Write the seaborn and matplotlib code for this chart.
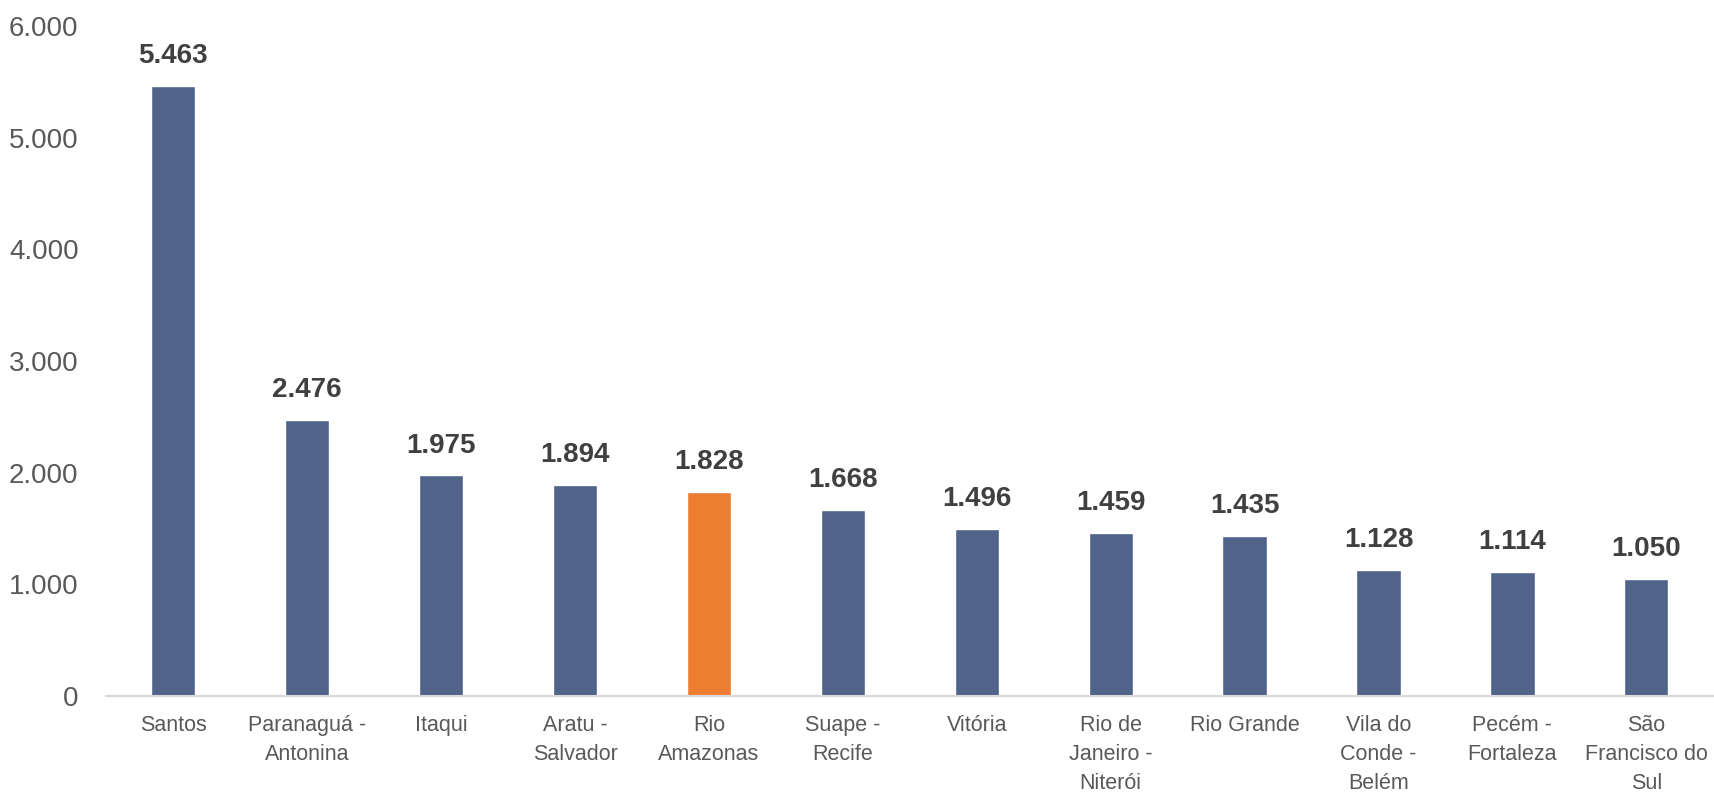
import matplotlib.pyplot as plt
import seaborn as sns
import pandas as pd

sns.set_theme(style="white")
plt.rcParams['font.family'] = ['Liberation Sans Narrow', 'Liberation Sans', 'DejaVu Sans']

# Dados
portos = ["Santos", "Paranaguá -\nAntonina", "Itaqui", "Aratu -\nSalvador", "Rio\nAmazonas",
          "Suape -\nRecife", "Vitória", "Rio de\nJaneiro -\nNiterói", "Rio Grande",
          "Vila do\nConde -\nBelém", "Pecém -\nFortaleza", "São\nFrancisco do\nSul"]
valores = [5463, 2476, 1975, 1894, 1828, 1668, 1496, 1459, 1435, 1128, 1114, 1050]
destaque = "Rio\nAmazonas"

df = pd.DataFrame({"Porto": portos, "Valor": valores})
cores = {p: ("#ED7D31" if p == destaque else "#506389") for p in portos}


def fmt(v):
    return f"{int(round(v)):,}".replace(",", ".")


fig = plt.figure(figsize=(17.15, 8), dpi=100)
ax = fig.add_axes([0.062, 0.13, 0.937, 0.8375])

sns.barplot(data=df, x="Porto", y="Valor", hue="Porto", palette=cores, legend=False,
            width=0.33, saturation=1, ax=ax)

for c in ax.containers:
    ax.bar_label(c, labels=[fmt(v) for v in c.datavalues],
                 padding=12, fontsize=20, fontweight="bold", color="#404040")

ax.set_ylim(0, 6000)
ax.set_xlim(-0.5, 11.5)
ax.set_yticks(range(0, 6001, 1000))
ax.set_yticklabels([fmt(v) for v in range(0, 6001, 1000)])
ax.tick_params(axis="y", labelsize=20, colors="#595959", pad=20, length=0)
ax.tick_params(axis="x", labelsize=15.5, colors="#595959", pad=14, length=0)
for t in ax.get_xticklabels():
    t.set_linespacing(1.5)
ax.set_xlabel("")
ax.set_ylabel("")
for s in ["top", "right", "left"]:
    ax.spines[s].set_visible(False)
ax.spines["bottom"].set_color("#D9D9D9")
ax.spines["bottom"].set_linewidth(1.5)

plt.savefig("out.png", dpi=100)
